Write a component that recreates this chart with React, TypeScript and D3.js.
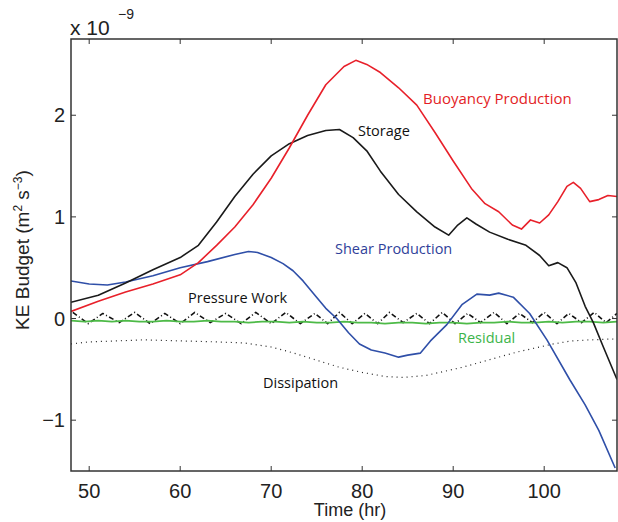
import React from "react";
import * as d3 from "d3";

const xTicks = [50, 60, 70, 80, 90, 100];
const yTicks = [-1, 0, 1, 2];

const buoyT = [48, 51, 54, 57, 60, 62, 64, 66, 68, 70, 72, 74, 76, 78, 79.3, 80.5, 82, 84, 86, 88, 90, 92, 93.5, 95, 96.5, 97.5, 98.5, 99.5, 100.5, 101.5, 102.5, 103.2, 104, 105, 106, 107, 108];
const buoyV = [0.07, 0.17, 0.26, 0.34, 0.43, 0.55, 0.72, 0.9, 1.12, 1.38, 1.68, 2.0, 2.3, 2.48, 2.54, 2.5, 2.42, 2.27, 2.1, 1.83, 1.55, 1.28, 1.13, 1.05, 0.92, 0.88, 0.97, 0.94, 1.02, 1.15, 1.3, 1.34, 1.28, 1.15, 1.17, 1.21, 1.2];

const storT = [48, 51, 54, 57, 60, 62, 64, 66, 68, 70, 72, 74, 76, 77.5, 79, 80.5, 82, 84, 86, 88, 89.5, 90.5, 91.5, 92.5, 94, 96, 98, 99.5, 100.5, 101.5, 102.5, 103.5, 104.5, 105.4, 106.5, 108];
const storV = [0.16, 0.23, 0.35, 0.48, 0.6, 0.72, 0.95, 1.2, 1.42, 1.6, 1.72, 1.8, 1.85, 1.86, 1.78, 1.65, 1.45, 1.22, 1.05, 0.9, 0.82, 0.92, 0.99, 0.93, 0.85, 0.78, 0.72, 0.62, 0.52, 0.55, 0.5, 0.35, 0.12, -0.04, -0.28, -0.6];

const shearT = [48, 50, 52, 54, 57, 60, 63, 66, 67.5, 68.5, 70, 71.3, 72.4, 73.5, 74.8, 76, 77.2, 78.5, 79.7, 81, 82.5, 84, 85, 86.4, 87.5, 89.3, 91, 92.6, 94, 95, 96.6, 98.4, 100.3, 102.8, 104.5, 106, 107.8];
const shearV = [0.37, 0.34, 0.33, 0.36, 0.42, 0.5, 0.56, 0.63, 0.66, 0.65, 0.6, 0.54, 0.47, 0.37, 0.23, 0.1, 0.0, -0.14, -0.25, -0.31, -0.34, -0.38, -0.36, -0.34, -0.22, -0.06, 0.14, 0.24, 0.23, 0.25, 0.21, 0.05, -0.21, -0.6, -0.85, -1.1, -1.47];

const dissT = [48, 50, 53, 56, 60, 64, 67, 70, 72.5, 75, 77.5, 80, 82.5, 84.5, 87, 89, 91, 93, 95, 97, 99, 101, 103, 105, 108];
const dissV = [-0.25, -0.23, -0.22, -0.21, -0.22, -0.23, -0.24, -0.28, -0.34, -0.41, -0.48, -0.53, -0.57, -0.58, -0.56, -0.52, -0.48, -0.43, -0.38, -0.33, -0.29, -0.25, -0.22, -0.21, -0.2];

const resT = [48, 49.5, 51, 52.5, 54, 55.5, 57, 58.5, 60, 61.5, 63, 64.5, 66, 67.5, 69, 70.5, 72, 73.5, 75, 76.5, 78, 79.5, 81, 82.5, 84, 85.5, 87, 88.5, 90, 91.5, 93, 94.5, 96, 97.5, 99, 100.5, 102, 103.5, 105, 106.5, 108];
const resV = [-0.02, -0.03, -0.02, -0.03, -0.02, -0.03, -0.03, -0.02, -0.03, -0.03, -0.02, -0.03, -0.03, -0.04, -0.03, -0.03, -0.04, -0.03, -0.04, -0.04, -0.03, -0.04, -0.04, -0.05, -0.04, -0.04, -0.05, -0.04, -0.04, -0.05, -0.04, -0.04, -0.03, -0.04, -0.04, -0.03, -0.04, -0.03, -0.03, -0.04, -0.03];

const presT = [48.2, 49.9, 51.5, 53.3, 55.0, 56.7, 58.3, 60.0, 61.6, 63.3, 65.0, 66.7, 68.3, 70.0, 71.6, 73.2, 74.8, 76.2, 77.5, 78.9, 80.3, 81.7, 83.0, 84.5, 86.0, 87.4, 88.8, 90.2, 91.6, 93.0, 94.5, 95.9, 97.3, 98.7, 100.0, 101.4, 102.7, 104.1, 105.5, 106.8, 108];
const presV = [0.06, -0.05, 0.05, -0.04, 0.06, -0.05, 0.05, -0.05, 0.06, -0.04, 0.05, -0.05, 0.06, -0.05, 0.06, -0.05, 0.05, -0.05, 0.06, -0.05, 0.05, -0.05, 0.06, -0.04, 0.05, -0.05, 0.06, -0.05, 0.05, -0.04, 0.06, -0.05, 0.05, -0.04, 0.06, -0.05, 0.05, -0.04, 0.06, -0.04, 0.05];

const W = 618, H = 522;
const L = 71, R = 617, T = 39, B = 471;

export default function App() {
  const x = d3.scaleLinear().domain([48, 108]).range([L, R]);
  const y = d3.scaleLinear().domain([-1.5, 2.75]).range([B, T]);
  const mk = (ts: number[], vs: number[]) =>
    d3.line<number>().x((_, i) => x(ts[i])).y((v) => y(v))(vs) || "";
  const font = "'Liberation Sans', Arial, sans-serif";
  const lab = "'Open Sans', 'Noto Sans', sans-serif";
  return (
    <svg width={W} height={H} style={{ position: "absolute", left: 0, top: 0, background: "#fff" }}>
      <defs>
        <clipPath id="clip">
          <rect x={L} y={T} width={R - L} height={B - T} />
        </clipPath>
      </defs>
      <g clipPath="url(#clip)" fill="none" strokeLinejoin="round">
        <path d={mk(dissT, dissV)} stroke="#222" strokeWidth={1.2} strokeDasharray="1,4" />
        <path d={mk(presT, presV)} stroke="#111" strokeWidth={1.6} strokeDasharray="5,2.5,1,2.5" />
        <path d={mk(resT, resV)} stroke="#4dba47" strokeWidth={1.8} />
        <path d={mk(shearT, shearV)} stroke="#2f4fa8" strokeWidth={1.6} />
        <path d={mk(storT, storV)} stroke="#1a1a1a" strokeWidth={1.6} />
        <path d={mk(buoyT, buoyV)} stroke="#e8202a" strokeWidth={1.6} />
      </g>
      <rect x={L} y={T} width={R - L} height={B - T} fill="none" stroke="#333" strokeWidth={1.5} />
      {xTicks.map((t) => (
        <g key={"x" + t}>
          <line x1={x(t)} x2={x(t)} y1={B} y2={B - 5} stroke="#333" />
          <line x1={x(t)} x2={x(t)} y1={T} y2={T + 5} stroke="#333" />
          <text x={x(t)} y={B + 27} textAnchor="middle" fontFamily={font} fontSize={20} fill="#222">{t}</text>
        </g>
      ))}
      {yTicks.map((t) => (
        <g key={"y" + t}>
          <line x1={L} x2={L + 5} y1={y(t)} y2={y(t)} stroke="#333" />
          <line x1={R} x2={R - 5} y1={y(t)} y2={y(t)} stroke="#333" />
          <text x={L - 6} y={y(t) + 7} textAnchor="end" fontFamily={font} fontSize={20} fill="#222">{t < 0 ? "\u2212" + Math.abs(t) : t}</text>
        </g>
      ))}
      <text x={70} y={35} fontFamily={font} fontSize={21} fill="#222">x 10</text>
      <text x={118} y={19} fontFamily={font} fontSize={14} fill="#222">{"\u22129"}</text>
      <text x={350} y={516} textAnchor="middle" fontFamily={font} fontSize={18} fill="#222">Time (hr)</text>
      <text transform={`translate(29,${250}) rotate(-90)`} textAnchor="middle" fontFamily={font} fontSize={19} fill="#222">
        KE Budget (m<tspan fontSize={12} dy={-7}>2</tspan><tspan dy={7}> s</tspan><tspan fontSize={12} dy={-7}>{"\u22123"}</tspan><tspan dy={7}>)</tspan>
      </text>
      <text x={423} y={104} fontFamily={lab} fontSize={15} fill="#e31d25">Buoyancy Production</text>
      <text x={358} y={136} fontFamily={lab} fontSize={14.5} fill="#111">Storage</text>
      <text x={335} y={254} fontFamily={lab} fontSize={14.5} fill="#2f3f9a">Shear Production</text>
      <text x={188} y={303} fontFamily={lab} fontSize={14.5} fill="#111">Pressure Work</text>
      <text x={458} y={343} fontFamily={lab} fontSize={14.5} fill="#3cb44a">Residual</text>
      <text x={263} y={388} fontFamily={lab} fontSize={14.5} fill="#111">Dissipation</text>
    </svg>
  );
}
